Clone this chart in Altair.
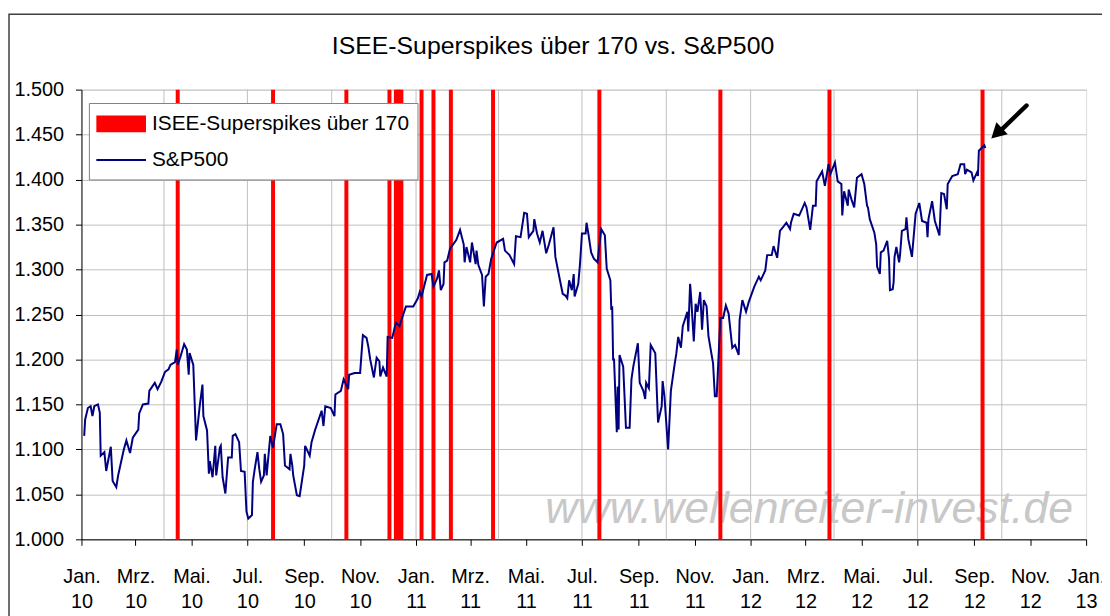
import altair as alt
import pandas as pd

FONT = "Liberation Sans, Arial, sans-serif"

title_text = "ISEE-Superspikes über 170 vs. S&P500"
series_names = ["ISEE-Superspikes über 170", "S&P500"]
month_labels = ["Jan.", "Feb.", "Mrz.", "Apr.", "Mai.", "Jun.", "Jul.", "Aug.", "Sep.", "Okt.", "Nov.", "Dez."]
watermark_text = "www.wellenreiter-invest.de"

# ISEE superspike days (red bars)
spike_dates = [
    "2010-04-16", "2010-07-29", "2010-10-17", "2010-12-03", "2010-12-10", "2010-12-12",
    "2010-12-14", "2010-12-16", "2011-01-07", "2011-01-20", "2011-02-08", "2011-03-26",
    "2011-07-20", "2011-11-29", "2012-03-27", "2012-09-10",
]

# S&P500
sp_dates = [
    "2010-01-04", "2010-01-05", "2010-01-08", "2010-01-11", "2010-01-13", "2010-01-15", "2010-01-19",
    "2010-01-21", "2010-01-22", "2010-01-26", "2010-01-28", "2010-02-02", "2010-02-04", "2010-02-08",
    "2010-02-10", "2010-02-16", "2010-02-19", "2010-02-23", "2010-02-26", "2010-03-04", "2010-03-05",
    "2010-03-09", "2010-03-15", "2010-03-16", "2010-03-22", "2010-03-25", "2010-03-29", "2010-04-02",
    "2010-04-06", "2010-04-08", "2010-04-13", "2010-04-15", "2010-04-16", "2010-04-19", "2010-04-23",
    "2010-04-26", "2010-04-28", "2010-04-29", "2010-05-03", "2010-05-06", "2010-05-10", "2010-05-13",
    "2010-05-14", "2010-05-18", "2010-05-20", "2010-05-21", "2010-05-24", "2010-05-27", "2010-05-28",
    "2010-06-01", "2010-06-02", "2010-06-04", "2010-06-07", "2010-06-10", "2010-06-14", "2010-06-15",
    "2010-06-18", "2010-06-22", "2010-06-24", "2010-06-28", "2010-06-30", "2010-07-02", "2010-07-06",
    "2010-07-07", "2010-07-09", "2010-07-12", "2010-07-14", "2010-07-16", "2010-07-19", "2010-07-20",
    "2010-07-22", "2010-07-26", "2010-07-29", "2010-08-02", "2010-08-06", "2010-08-09", "2010-08-11",
    "2010-08-16", "2010-08-17", "2010-08-19", "2010-08-20", "2010-08-24", "2010-08-27", "2010-09-01",
    "2010-09-02", "2010-09-07", "2010-09-09", "2010-09-13", "2010-09-20", "2010-09-22", "2010-09-24",
    "2010-09-30", "2010-10-04", "2010-10-05", "2010-10-11", "2010-10-14", "2010-10-19", "2010-10-20",
    "2010-10-26", "2010-11-01", "2010-11-04", "2010-11-08", "2010-11-10", "2010-11-12", "2010-11-16",
    "2010-11-19", "2010-11-22", "2010-11-23", "2010-11-26", "2010-11-30", "2010-12-01", "2010-12-06",
    "2010-12-10", "2010-12-14", "2010-12-16", "2010-12-21", "2010-12-29",
    "2011-01-03", "2011-01-05", "2011-01-07", "2011-01-13", "2011-01-18", "2011-01-20", "2011-01-24",
    "2011-01-26", "2011-01-28", "2011-01-31", "2011-02-01", "2011-02-04", "2011-02-07", "2011-02-14",
    "2011-02-18", "2011-02-22", "2011-02-23", "2011-02-25", "2011-03-01", "2011-03-03", "2011-03-07",
    "2011-03-08", "2011-03-10", "2011-03-14", "2011-03-16", "2011-03-18", "2011-03-21", "2011-03-24",
    "2011-03-30", "2011-04-06", "2011-04-08", "2011-04-13", "2011-04-18", "2011-04-20", "2011-04-25",
    "2011-04-29", "2011-05-02", "2011-05-04", "2011-05-09", "2011-05-10", "2011-05-13", "2011-05-16",
    "2011-05-19", "2011-05-23", "2011-05-26", "2011-05-31", "2011-06-02", "2011-06-07", "2011-06-10",
    "2011-06-13", "2011-06-15", "2011-06-17", "2011-06-20", "2011-06-22", "2011-06-23", "2011-06-27",
    "2011-06-29", "2011-07-01", "2011-07-05", "2011-07-06", "2011-07-08", "2011-07-11", "2011-07-14",
    "2011-07-18", "2011-07-22", "2011-07-26", "2011-07-28", "2011-08-01", "2011-08-02", "2011-08-03",
    "2011-08-04", "2011-08-05", "2011-08-08", "2011-08-09", "2011-08-10", "2011-08-11", "2011-08-15",
    "2011-08-18", "2011-08-22", "2011-08-24", "2011-08-26", "2011-08-31", "2011-09-02", "2011-09-06",
    "2011-09-08", "2011-09-09", "2011-09-12", "2011-09-14", "2011-09-19", "2011-09-22", "2011-09-26",
    "2011-09-27", "2011-09-29", "2011-10-03", "2011-10-06", "2011-10-10", "2011-10-12", "2011-10-14",
    "2011-10-17", "2011-10-19", "2011-10-24", "2011-10-25", "2011-10-27", "2011-10-28", "2011-10-31",
    "2011-11-02", "2011-11-04", "2011-11-07", "2011-11-09", "2011-11-11", "2011-11-14", "2011-11-16",
    "2011-11-21", "2011-11-23", "2011-11-25", "2011-11-29", "2011-12-02", "2011-12-05", "2011-12-08",
    "2011-12-12", "2011-12-15", "2011-12-19", "2011-12-20", "2011-12-23", "2011-12-27", "2011-12-30",
    "2012-01-05", "2012-01-10", "2012-01-12", "2012-01-17", "2012-01-19", "2012-01-24", "2012-01-26",
    "2012-01-30", "2012-02-02", "2012-02-06", "2012-02-09", "2012-02-13", "2012-02-14", "2012-02-17",
    "2012-02-23", "2012-02-29", "2012-03-02", "2012-03-06", "2012-03-09", "2012-03-12", "2012-03-13",
    "2012-03-19", "2012-03-22", "2012-03-26", "2012-03-28", "2012-04-02", "2012-04-05", "2012-04-09",
    "2012-04-10", "2012-04-12", "2012-04-16", "2012-04-17", "2012-04-20", "2012-04-23", "2012-04-26",
    "2012-05-01", "2012-05-04", "2012-05-07", "2012-05-08", "2012-05-10", "2012-05-15", "2012-05-17",
    "2012-05-18", "2012-05-21", "2012-05-22", "2012-05-25", "2012-05-29", "2012-05-31", "2012-06-01",
    "2012-06-04", "2012-06-05", "2012-06-06", "2012-06-08", "2012-06-11", "2012-06-12", "2012-06-14",
    "2012-06-18", "2012-06-19", "2012-06-21", "2012-06-25", "2012-06-29", "2012-07-03", "2012-07-06",
    "2012-07-11", "2012-07-12", "2012-07-13", "2012-07-17", "2012-07-20", "2012-07-25", "2012-07-27",
    "2012-07-30", "2012-08-02", "2012-08-03", "2012-08-08", "2012-08-14", "2012-08-17", "2012-08-21",
    "2012-08-22", "2012-08-24", "2012-08-29", "2012-08-31", "2012-09-04", "2012-09-05", "2012-09-06",
    "2012-09-12", "2012-09-13",
]
sp_values = [
    1115, 1133, 1146, 1148, 1137, 1148, 1150,
    1141, 1093, 1097, 1076, 1103, 1065, 1058,
    1071, 1099, 1110, 1096, 1113, 1122, 1140,
    1150, 1151, 1165, 1174, 1167, 1175, 1186,
    1189, 1194, 1197, 1211, 1194, 1203, 1217,
    1211, 1183, 1207, 1194, 1110, 1148, 1172,
    1137, 1121, 1073, 1087, 1069, 1104, 1071,
    1102, 1104, 1069, 1051, 1091, 1091, 1115,
    1117, 1108, 1076, 1075, 1031, 1023, 1027,
    1064, 1078, 1097, 1078, 1064, 1071, 1095,
    1071, 1115, 1102, 1128, 1128, 1117, 1082,
    1078, 1095, 1082, 1071, 1049, 1048, 1082,
    1104, 1093, 1108, 1122, 1143, 1126, 1148,
    1146, 1137, 1161, 1165, 1178, 1167, 1183,
    1185, 1185, 1227, 1224, 1214, 1200, 1180,
    1202, 1198, 1181, 1191, 1181, 1225, 1224,
    1241, 1237, 1244, 1259, 1259,
    1268, 1275, 1270, 1294, 1295, 1281, 1290,
    1299, 1277, 1284, 1308, 1310, 1323, 1333,
    1344, 1328, 1308, 1325, 1308, 1330, 1306,
    1321, 1305, 1294, 1259, 1292, 1295, 1312,
    1330, 1334, 1321, 1316, 1306, 1337, 1336,
    1363, 1362, 1336, 1343, 1356, 1340, 1330,
    1343, 1318, 1328, 1347, 1314, 1288, 1273,
    1271, 1268, 1288, 1277, 1295, 1270, 1284,
    1308, 1340, 1340, 1352, 1340, 1319, 1312,
    1308, 1345, 1338, 1301, 1288, 1255, 1259,
    1200, 1200, 1119, 1170, 1122, 1205, 1192,
    1124, 1124, 1178, 1192, 1218, 1174, 1165,
    1156, 1174, 1168, 1216, 1207, 1130, 1148,
    1176, 1159, 1100, 1165, 1194, 1207, 1225,
    1213, 1237, 1253, 1231, 1284, 1271, 1220,
    1262, 1253, 1275, 1233, 1266, 1259, 1226,
    1196, 1159, 1159, 1246, 1246, 1260, 1251,
    1213, 1216, 1205, 1244, 1266, 1253, 1264,
    1281, 1292, 1288, 1299, 1316, 1316, 1326,
    1313, 1343, 1348, 1352, 1345, 1352, 1362,
    1360, 1374, 1369, 1344, 1371, 1371, 1398,
    1409, 1393, 1417, 1406, 1419, 1398, 1395,
    1360, 1387, 1371, 1389, 1378, 1369, 1402,
    1406, 1395, 1371, 1369, 1356, 1341, 1328,
    1303, 1295, 1319, 1321, 1332, 1312, 1277,
    1278, 1286, 1314, 1325, 1308, 1316, 1343,
    1345, 1358, 1334, 1314, 1362, 1374, 1354,
    1352, 1336, 1356, 1376, 1354, 1338, 1385,
    1384, 1367, 1395, 1404, 1406, 1417, 1417,
    1406, 1411, 1408, 1399, 1408, 1404, 1432,
    1438, 1435,
]

# axis ticks (every two months) and vertical gridlines (quarterly)
tick_dates = [
    "2010-01-01", "2010-03-01", "2010-05-01", "2010-07-01", "2010-09-01", "2010-11-01",
    "2011-01-01", "2011-03-01", "2011-05-01", "2011-07-01", "2011-09-01", "2011-11-01",
    "2012-01-01", "2012-03-01", "2012-05-01", "2012-07-01", "2012-09-01", "2012-11-01",
    "2013-01-01",
]
grid_dates = [
    "2010-04-01", "2010-07-01", "2010-10-01", "2011-01-01", "2011-04-01", "2011-07-01",
    "2011-10-01", "2012-01-01", "2012-04-01", "2012-07-01", "2012-10-01",
]
y_ticks = [1000, 1050, 1100, 1150, 1200, 1250, 1300, 1350, 1400, 1450, 1500]
x_start, x_end = "2010-01-01", "2013-01-01"


def dt(s):
    t = pd.Timestamp(s)
    return alt.DateTime(year=t.year, month=t.month, date=t.day, utc=True)


RED = "#FF0000"
NAVY = "#000080"
GRID = "#C0C0C0"

sp_df = pd.DataFrame({"date": sp_dates, "value": sp_values})
spike_df = pd.DataFrame({"date": spike_dates})
grid_df = pd.DataFrame({"date": grid_dates})

month_js = "[" + ",".join("'%s'" % m for m in month_labels) + "]"

x_scale = alt.Scale(type="utc", domain=[dt(x_start), dt(x_end)], nice=False)
y_scale = alt.Scale(domain=[y_ticks[0], y_ticks[-1]], nice=False, zero=False)

x_axis = alt.Axis(
    values=[dt(s) for s in tick_dates],
    labelExpr="[" + month_js + "[utcmonth(datum.value)], utcFormat(datum.value, '%y')]",
    title=None, grid=False, tickSize=6, labelFontSize=20, labelFont=FONT,
    labelColor="black", domainColor="black", tickColor="black", labelPadding=21,
    labelLineHeight=26, labelFlush=False, labelOverlap=False, labelBaseline="top",
)
y_axis = alt.Axis(
    values=y_ticks, labelExpr="replace(format(datum.value, ','), ',', '.')",
    title=None, grid=True, gridColor=GRID, tickSize=6, labelFontSize=20, labelFont=FONT,
    labelColor="black", domainColor="black", tickColor="black", labelPadding=12,
)

grid_layer = alt.Chart(grid_df).mark_rule(color=GRID, strokeWidth=1).encode(
    x=alt.X("date:T", scale=x_scale, axis=x_axis)
)

one = pd.DataFrame({"k": [0]})

title_mark = alt.Chart(one).mark_text(
    text=title_text, font=FONT, fontSize=25, color="black", align="center", baseline="middle",
).encode(x=alt.value(475), y=alt.value(-44))

watermark = alt.Chart(one).mark_text(
    text=watermark_text, font=FONT, fontSize=45, fontStyle="italic",
    color="#C8C8C8", align="center", baseline="middle",
).encode(x=alt.value(733), y=alt.value(423))

spikes = alt.Chart(spike_df).mark_rule(color=RED, strokeWidth=4).encode(
    x=alt.X("date:T", scale=x_scale, axis=x_axis)
)

line = alt.Chart(sp_df).mark_line(color=NAVY, strokeWidth=2).encode(
    x=alt.X("date:T", scale=x_scale, axis=x_axis),
    y=alt.Y("value:Q", scale=y_scale, axis=y_axis),
)

leg_box = alt.Chart(one).mark_rect(fill="white", stroke="#808080", strokeWidth=1).encode(
    x=alt.value(8), x2=alt.value(339), y=alt.value(14), y2=alt.value(91)
)
leg_red = alt.Chart(one).mark_rect(fill=RED).encode(
    x=alt.value(15), x2=alt.value(65), y=alt.value(26), y2=alt.value(43)
)
leg_blue = alt.Chart(one).mark_rule(color=NAVY, strokeWidth=2).encode(
    x=alt.value(15), x2=alt.value(65), y=alt.value(71), y2=alt.value(71)
)
leg_t1 = alt.Chart(one).mark_text(
    text=series_names[0], font=FONT, fontSize=21, align="left", baseline="middle", color="black"
).encode(x=alt.value(71), y=alt.value(34.5))
leg_t2 = alt.Chart(one).mark_text(
    text=series_names[1], font=FONT, fontSize=21, align="left", baseline="middle", color="black"
).encode(x=alt.value(71), y=alt.value(71))

arrow_shaft = alt.Chart(one).mark_rule(color="black", strokeWidth=4.5, strokeCap="round").encode(
    x=alt.value(952), y=alt.value(16), x2=alt.value(923), y2=alt.value(44)
)
arrow_head = alt.Chart(one).mark_point(
    shape="M0,-1L1,0.8L-1,0.8Z", filled=True, color="black", opacity=1, size=277, angle=226.6
).encode(x=alt.value(922.5), y=alt.value(43.5))

frame = alt.Chart(one).mark_rect(fill=None, stroke="#404040", strokeWidth=1.5).encode(
    x=alt.value(-73), x2=alt.value(1200), y=alt.value(-76), y2=alt.value(700)
)

chart = alt.layer(
    frame, title_mark, grid_layer, watermark, spikes, line,
    leg_box, leg_red, leg_blue, leg_t1, leg_t2, arrow_shaft, arrow_head,
).properties(
    width=1012, height=453,
    autosize=alt.AutoSizeParams(type="none"),
    padding={"left": 74, "top": 80, "right": 16, "bottom": 75},
).configure_view(stroke="black", strokeWidth=1).configure(background="white")

chart.save("out.html", embed_options={"renderer": "svg", "actions": False})
